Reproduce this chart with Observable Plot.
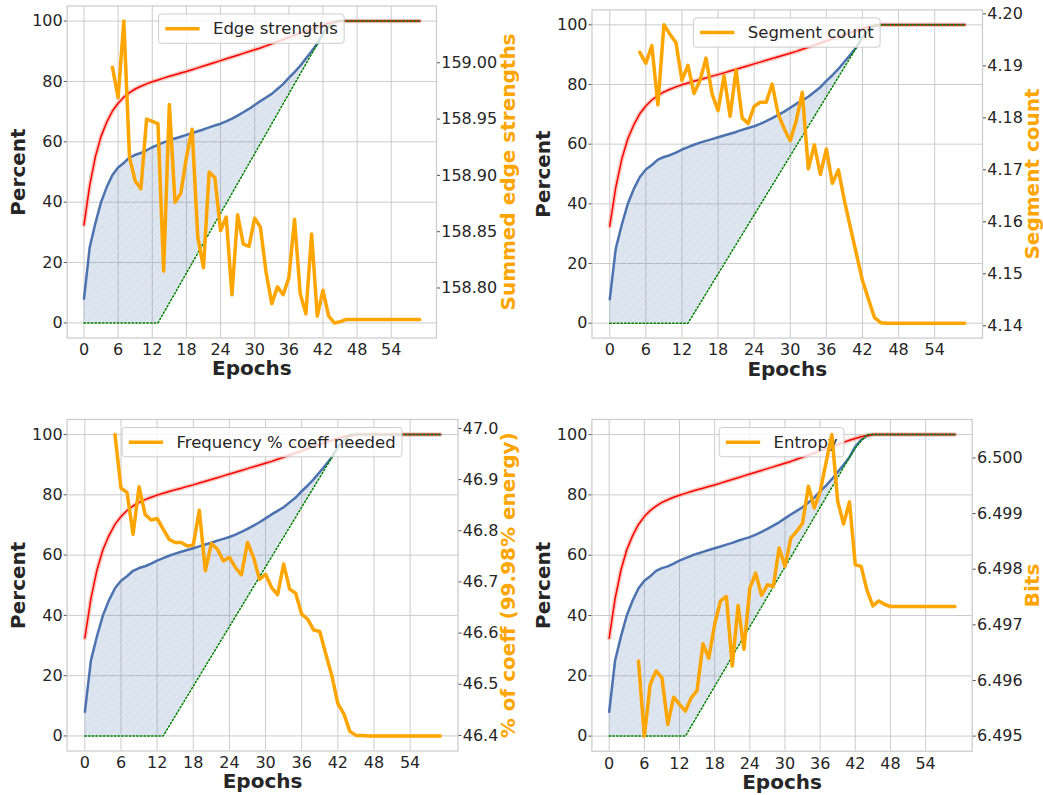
<!DOCTYPE html>
<html><head><meta charset="utf-8">
<script src="https://cdn.jsdelivr.net/npm/d3@7"></script>
<script src="https://cdn.jsdelivr.net/npm/@observablehq/plot@0.6"></script>
<style>
body{margin:0;background:#fff;}
#fig{position:relative;width:1043px;height:795px;background:#fff;overflow:hidden;font-family:"DejaVu Sans";}
.panel{position:absolute;}
.panel svg{overflow:visible;background:transparent;}
</style></head><body><div id="fig"></div>
<script>
// ---------- data ----------
const epochs = d3.range(0, 60);
const xTicks = [0, 6, 12, 18, 24, 30, 36, 42, 48, 54];
const yTicks = [0, 20, 40, 60, 80, 100];

const blue = [8, 25, 33, 40, 45, 49, 51.5, 53, 54.8, 55.7, 56.3, 57.2, 58.2, 59, 59.8, 60.5, 61.1, 61.7, 62.3, 62.9,
  63.5, 64.1, 64.8, 65.4, 66, 66.8, 67.7, 68.7, 69.8, 70.9, 72.2, 73.5, 74.7, 75.9, 77.5, 79.1, 81.2, 83.1, 85.2, 87.6,
  90, 92.5, 96, 98.3, 99.5, 100, 100, 100, 100, 100, 100, 100, 100, 100, 100, 100, 100, 100, 100, 100];
const red = [32.5, 45.5, 55, 61.8, 66.5, 70.2, 72.8, 74.8, 76.3, 77.5, 78.4, 79.2, 79.9, 80.5, 81.1, 81.7, 82.2, 82.8, 83.3, 83.9,
  84.5, 85.1, 85.7, 86.3, 86.9, 87.5, 88.1, 88.7, 89.3, 89.9, 90.5, 91.1, 91.8, 92.5, 93.2, 93.9, 94.6, 95.3, 96, 96.7,
  97.4, 98.1, 98.7, 99.3, 99.7, 100, 100, 100, 100, 100, 100, 100, 100, 100, 100, 100, 100, 100, 100, 100];
const green = [0, 0, 0, 0, 0, 0, 0, 0, 0, 0, 0, 0, 0, 0, 3.3, 6.6, 9.9, 13.2, 16.5, 19.8,
  23.1, 26.4, 29.7, 33, 36.3, 39.6, 42.9, 46.2, 49.5, 52.8, 56.1, 59.4, 62.7, 66, 69.3, 72.6, 75.9, 79.2, 82.5, 85.8,
  89.1, 92.4, 95.5, 98, 100, 100, 100, 100, 100, 100, 100, 100, 100, 100, 100, 100, 100, 100, 100, 100];

const orangeEpochs = epochs.slice(5);
const edgeStrengths = [158.996, 158.969, 159.037, 158.916, 158.895, 158.888, 158.950, 158.948, 158.946, 158.815,
  158.963, 158.876, 158.884, 158.916, 158.941, 158.845, 158.818, 158.903, 158.898, 158.851,
  158.863, 158.794, 158.865, 158.839, 158.837, 158.862, 158.854, 158.814, 158.786, 158.801,
  158.794, 158.809, 158.861, 158.795, 158.777, 158.848, 158.775, 158.798, 158.775, 158.769,
  158.770, 158.772, 158.772, 158.772, 158.772, 158.772, 158.772, 158.772, 158.772, 158.772,
  158.772, 158.772, 158.772, 158.772, 158.772];
const segmentCount = [4.1926, 4.1905, 4.1939, 4.1825, 4.1979, 4.1961, 4.1945, 4.1872, 4.1901, 4.1847,
  4.1872, 4.1915, 4.1846, 4.1814, 4.1881, 4.1803, 4.1892, 4.1800, 4.1789, 4.1822,
  4.1830, 4.1830, 4.1865, 4.1807, 4.1779, 4.1756, 4.1795, 4.1849, 4.1702, 4.1748,
  4.1691, 4.1740, 4.1674, 4.1700, 4.1641, 4.1589, 4.1538, 4.1487, 4.1451, 4.1416,
  4.1406, 4.1405, 4.1405, 4.1405, 4.1405, 4.1405, 4.1405, 4.1405, 4.1405, 4.1405,
  4.1405, 4.1405, 4.1405, 4.1405, 4.1405];
const coeffNeeded = [46.988, 46.883, 46.875, 46.793, 46.886, 46.832, 46.821, 46.824, 46.803, 46.783,
  46.777, 46.777, 46.770, 46.772, 46.840, 46.722, 46.775, 46.764, 46.741, 46.748,
  46.728, 46.714, 46.777, 46.748, 46.705, 46.715, 46.689, 46.675, 46.735, 46.686,
  46.678, 46.637, 46.627, 46.606, 46.603, 46.559, 46.517, 46.462, 46.442, 46.408,
  46.400, 46.400, 46.399, 46.399, 46.399, 46.399, 46.399, 46.399, 46.399, 46.399,
  46.399, 46.399, 46.399, 46.399, 46.399];
const entropyBits = [6.49635, 6.49500, 6.49593, 6.49617, 6.49605, 6.49521, 6.49570, 6.49557, 6.49545, 6.49569,
  6.49582, 6.49666, 6.49640, 6.49701, 6.49743, 6.49751, 6.49626, 6.49735, 6.49656, 6.49766,
  6.49793, 6.49753, 6.49772, 6.49769, 6.49838, 6.49805, 6.49856, 6.49868, 6.49883, 6.49949,
  6.49910, 6.49940, 6.49991, 6.50042, 6.49922, 6.49881, 6.49921, 6.49808, 6.49805, 6.49762,
  6.49734, 6.49743, 6.49737, 6.49733, 6.49733, 6.49733, 6.49733, 6.49733, 6.49733, 6.49733,
  6.49733, 6.49733, 6.49733, 6.49733, 6.49733];

const ticksEdge = [158.80, 158.85, 158.90, 158.95, 159.00];
const ticksSegment = [4.14, 4.15, 4.16, 4.17, 4.18, 4.19, 4.20];
const ticksCoeff = [46.4, 46.5, 46.6, 46.7, 46.8, 46.9, 47.0];
const ticksBits = [6.495, 6.496, 6.497, 6.498, 6.499, 6.500];

const legendLabels = ["Edge strengths", "Segment count", "Frequency % coeff needed", "Entropy"];
const rightLabels = ["Summed edge strengths", "Segment count", "% of coeff (99.98% energy)", "Bits"];

// ---------- layout ----------
const panels = [
  {left: 0, top: 0, w: 521, h: 397, mL: 66.7, mR: 85, mT: 5.5, mB: 59.5, lDx: -48.4, rDx: 72.3,
   values: edgeStrengths, ticks: ticksEdge, dec: 2, legend: legendLabels[0], rlabel: rightLabels[0]},
  {left: 521, top: 0, w: 522, h: 397, mL: 70.5, mR: 61, mT: 9.4, mB: 59.4, lDx: -48.2, rDx: 50.3,
   values: segmentCount, ticks: ticksSegment, dec: 2, legend: legendLabels[1], rlabel: rightLabels[1]},
  {left: 0, top: 397, w: 521, h: 398, mL: 66.6, mR: 63.5, mT: 22, mB: 44.5, lDx: -48.3, rDx: 50.8,
   values: coeffNeeded, ticks: ticksCoeff, dec: 1, legend: legendLabels[2], rlabel: rightLabels[2]},
  {left: 521, top: 397, w: 522, h: 398, mL: 70.4, mR: 71.3, mT: 22, mB: 44.3, lDx: -48.3, rDx: 60.6,
   values: entropyBits, ticks: ticksBits, dec: 3, legend: legendLabels[3], rlabel: rightLabels[3]}
];

const rows = epochs.map((e, i) => ({epoch: e, blue: blue[i], red: red[i], green: green[i]}));
const pad5 = ([a, b]) => { const p = (b - a) * 0.05; return [a - p, b + p]; };
const xDomain = pad5(d3.extent(epochs));
const yDomain = pad5(d3.extent([...blue, ...red, ...green]));

const NS = "http://www.w3.org/2000/svg";
function el(name, attrs) {
  const e = document.createElementNS(NS, name);
  for (const k in attrs) e.setAttribute(k, attrs[k]);
  return e;
}

function legendMark(cfg) {
  return () => {
    const g = el("g", {});
    const ctx = document.createElement("canvas").getContext("2d");
    ctx.font = "16.5px 'DejaVu Sans'";
    const tw = ctx.measureText(cfg.legend).width;
    const bw = 60.7 + tw, bh = 29.3;
    const cx = cfg.mL + (cfg.w - cfg.mL - cfg.mR) / 2;
    const x0 = cx - bw / 2, y0 = cfg.mT + 8.5;
    g.appendChild(el("rect", {x: x0, y: y0, width: bw, height: bh, rx: 3, fill: "#ffffff", "fill-opacity": 0.8, stroke: "#cccccc", "stroke-width": 1}));
    g.appendChild(el("line", {x1: x0 + 6.7, x2: x0 + 41, y1: y0 + bh / 2, y2: y0 + bh / 2, stroke: "#ffa500", "stroke-width": 3.5}));
    const t = el("text", {x: x0 + 54.4, y: y0 + bh / 2, dy: "0.35em", "font-size": 16.5, fill: "#262626",
      "font-family": "DejaVu Sans", "text-anchor": "start"});
    t.textContent = cfg.legend;
    g.appendChild(t);
    return g;
  };
}

const fig = document.getElementById("fig");
panels.forEach((cfg, pi) => {
  const rScale = d3.scaleLinear(pad5(d3.extent(cfg.values)), yDomain);
  const orows = orangeEpochs.map((e, i) => ({epoch: e, v: cfg.values[i]}));
  const labelOpts = {text: d => d, fontSize: 20, fontWeight: "bold", textAnchor: "middle", lineAnchor: "middle"};
  const svg = Plot.plot({
    width: cfg.w, height: cfg.h,
    marginLeft: cfg.mL, marginRight: cfg.mR, marginTop: cfg.mT, marginBottom: cfg.mB,
    x: {domain: xDomain}, y: {domain: yDomain},
    style: {fontFamily: "DejaVu Sans", fontSize: "16px", color: "#262626", background: "transparent", overflow: "visible"},
    marks: [
      Plot.gridX({ticks: xTicks, stroke: "#cccccc", strokeOpacity: 1, strokeWidth: 1}),
      Plot.gridY({ticks: yTicks, stroke: "#cccccc", strokeOpacity: 1, strokeWidth: 1}),
      Plot.areaY(rows, {x: "epoch", y1: "green", y2: "blue", fill: "#4c72b0", fillOpacity: 0.2}),
      Plot.areaY(rows, {x: "epoch", y1: "green", y2: "blue", fill: `url(#hatch${pi})`}),
      Plot.lineY(rows, {x: "epoch", y: "blue", stroke: "#4c72b0", strokeWidth: 2.5}),
      Plot.lineY(rows, {x: "epoch", y: "red", stroke: "#f0a090", strokeOpacity: 0.55, strokeWidth: 4.5}),
      Plot.lineY(rows, {x: "epoch", y: "red", stroke: "red", strokeWidth: 1.5}),
      Plot.lineY(rows, {x: "epoch", y: "green", stroke: "green", strokeWidth: 1.5, strokeDasharray: "1.5,2.2"}),
      legendMark(cfg),
      Plot.line(orows, {x: "epoch", y: d => rScale(d.v), stroke: "#ffa500", strokeWidth: 3.5, strokeLinejoin: "round"}),
      Plot.frame({stroke: "#cccccc", strokeWidth: 1.25}),
      Plot.axisY({ticks: yTicks, anchor: "left", tickSize: 3, tickPadding: 1.5, label: null, stroke: "#555", fill: "#262626"}),
      Plot.axisY({ticks: cfg.ticks.map(v => rScale(v)), anchor: "right", tickSize: 3, tickPadding: 1.7, label: null,
        stroke: "#555", fill: "#262626", tickFormat: d => rScale.invert(d).toFixed(cfg.dec)}),
      Plot.axisX({ticks: xTicks, anchor: "bottom", tickSize: 0, tickPadding: 6, label: null, fill: "#262626", tickFormat: d => String(d)}),
      Plot.text(["Epochs"], {...labelOpts, frameAnchor: "bottom", dy: 31, fill: "#262626"}),
      Plot.text(["Percent"], {...labelOpts, frameAnchor: "left", dx: cfg.lDx, rotate: -90, fill: "#262626"}),
      Plot.text([cfg.rlabel], {...labelOpts, frameAnchor: "right", dx: cfg.rDx, rotate: -90, fill: "#ffa500"})
    ]
  });
  const defs = el("defs", {});
  const pat = el("pattern", {id: `hatch${pi}`, patternUnits: "userSpaceOnUse", width: 9, height: 9});
  pat.appendChild(el("path", {d: "M-2,2 l4,-4 M0,9 l9,-9 M7,11 l4,-4", stroke: "#ffffff", "stroke-width": 0.8, "stroke-opacity": 0.35}));
  defs.appendChild(pat);
  svg.insertBefore(defs, svg.firstChild);
  const div = document.createElement("div");
  div.className = "panel";
  div.style.left = cfg.left + "px";
  div.style.top = cfg.top + "px";
  div.appendChild(svg);
  fig.appendChild(div);
});
</script></body></html>
